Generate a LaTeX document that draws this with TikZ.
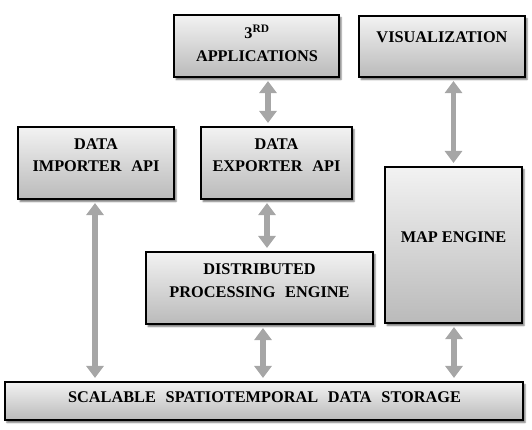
\documentclass[tikz,border=0pt]{standalone}
\usepackage{fontspec}
\setmainfont{Liberation Serif}
\usetikzlibrary{arrows.meta,shadows.blur}
\newcommand\wgap{\hspace*{0.6em}}
\begin{document}
\begin{tikzpicture}[x=1pt,y=-1pt,
  box/.style={draw=black, line width=1.1pt, top color=black!5, bottom color=black!27, inner sep=0pt,
    blur shadow={shadow xshift=2pt, shadow yshift=-2.5pt, shadow blur steps=4, shadow opacity=55, shadow blur radius=1.5pt}},
  lbl/.style={font=\fontsize{16.3}{22.5}\selectfont\bfseries, align=center, inner sep=0pt},
  dbl/.style={draw=black!35, line width=5.5pt, {Triangle[width=17pt,length=12pt]}-{Triangle[width=17pt,length=12pt]}, shorten <=3.5pt, shorten >=3.5pt}]
\useasboundingbox (0,0) rectangle (532,429);
% boxes
\node[box, minimum width=165pt, minimum height=62pt] (apps) at (256.5,46) {};
\node[box, minimum width=166pt, minimum height=61pt] (vis) at (442,46.5) {};
\node[box, minimum width=156pt, minimum height=72pt] (imp) at (96,163) {};
\node[box, minimum width=151pt, minimum height=72pt] (exp) at (276.5,163) {};
\node[box, minimum width=227pt, minimum height=72pt] (dist) at (259.5,288) {};
\node[box, minimum width=137pt, minimum height=156pt] (map) at (453.5,245) {};
\node[box, minimum width=518pt, minimum height=38pt] (sto) at (264,401) {};
% labels
\node[lbl] (appsT) at (257,43) {3\textsuperscript{RD}\\APPLICATIONS};
\node[lbl] (visT) at (442,37) {VISUALIZATION};
\node[lbl] (impT) at (96,155) {DATA\\IMPORTER\wgap API};
\node[lbl] (expT) at (276.5,155) {DATA\\EXPORTER\wgap API};
\node[lbl] (distT) at (259.5,280.5) {DISTRIBUTED\\PROCESSING\wgap ENGINE};
\node[lbl] (mapT) at (453.5,237) {MAP ENGINE};
\node[lbl] (stoT) at (264.5,397) {SCALABLE\wgap SPATIOTEMPORAL\wgap DATA\wgap STORAGE};
% arrow columns
\coordinate (c1) at (268,0);
\coordinate (c2) at (453.5,0);
\coordinate (c3) at (95,0);
\coordinate (c4) at (267,0);
\coordinate (c5) at (263,0);
\coordinate (c6) at (454,0);
\draw[dbl] (apps.south -| c1) -- (exp.north -| c1);
\draw[dbl] (vis.south -| c2) -- (map.north -| c2);
\draw[dbl] (imp.south -| c3) -- (sto.north -| c3);
\draw[dbl] (exp.south -| c4) -- (dist.north -| c4);
\draw[dbl] (dist.south -| c5) -- (sto.north -| c5);
\draw[dbl] (map.south -| c6) -- (sto.north -| c6);
\end{tikzpicture}
\end{document}
